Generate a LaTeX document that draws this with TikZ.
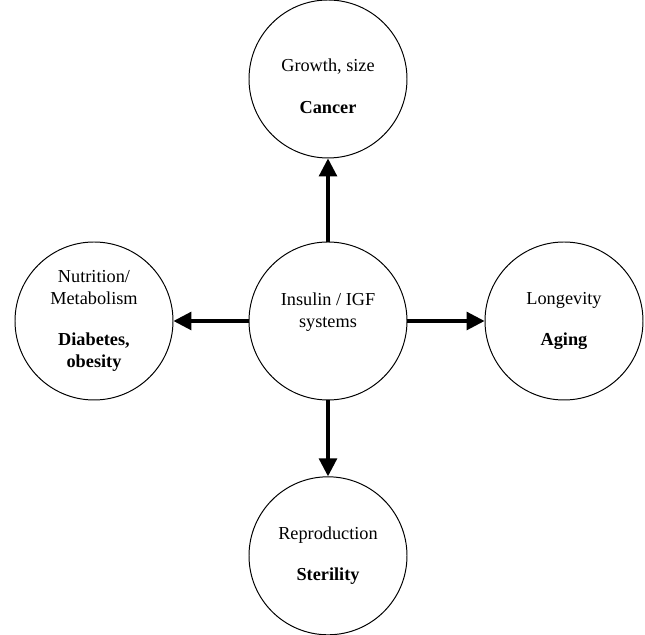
\documentclass[tikz,border=0pt]{standalone}
\usepackage{fontspec}
\setmainfont{Liberation Serif}
\usetikzlibrary{arrows.meta,positioning}
\tikzset{
  topic/.style={draw,circle,minimum size=3.95cm,inner sep=0pt,line width=0.7pt,align=center,
    font=\fontsize{13}{15.6}\selectfont},
  link/.style={line width=2.2pt,-{Triangle[length=0.45cm,width=0.45cm]}}
}

\begin{document}
\begin{tikzpicture}
  \useasboundingbox (0,0) rectangle (16.125,15.875);
  \node[topic] (igf) at (8.2,7.85) {Insulin / IGF\\systems\\~};
  \node[topic] (grow) at (8.2,13.9) {\rule{0pt}{19pt}Growth, size\\[14pt]\textbf{Cancer}};
  \node[topic] (nutr) at (2.35,7.85) {Nutrition/\\Metabolism\\[14pt]\textbf{Diabetes,}\\\textbf{obesity}};
  \node[topic] (long) at (14.1,7.85) {Longevity\\[14pt]\textbf{Aging}};
  \node[topic] (repr) at (8.2,1.98) {Reproduction\\[14pt]\textbf{Sterility}};
  \draw[link] (igf)--(grow);
  \draw[link] (igf)--(nutr);
  \draw[link] (igf)--(long);
  \draw[link] (igf)--(repr);
\end{tikzpicture}
\end{document}
